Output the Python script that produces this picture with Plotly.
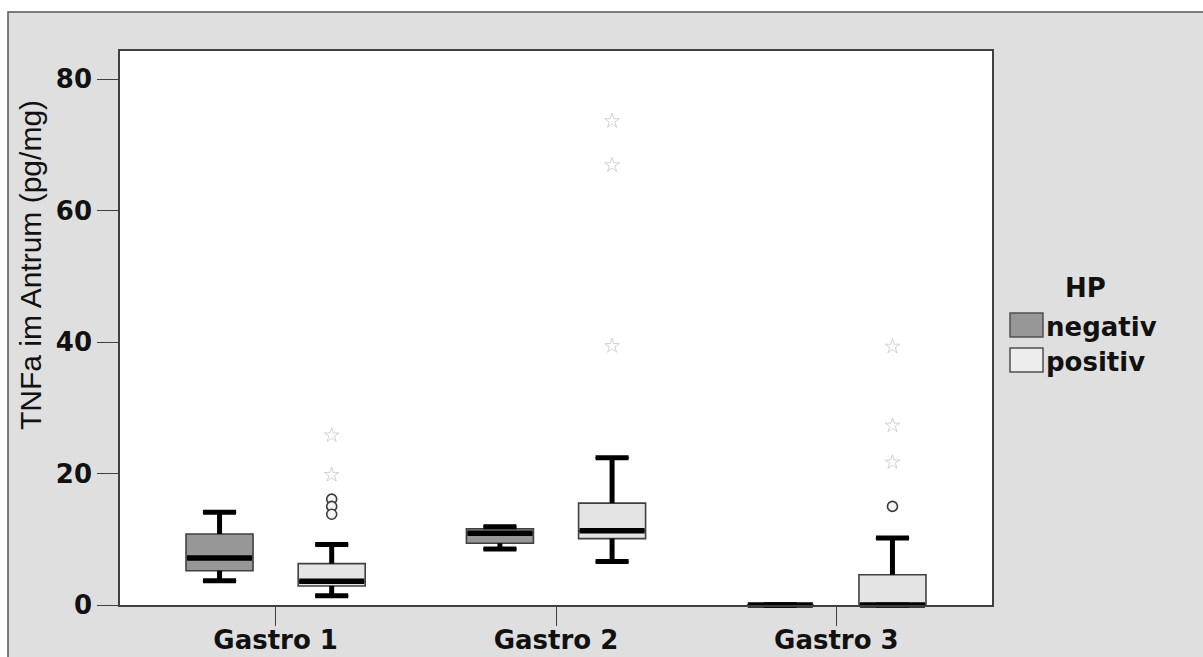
import plotly.graph_objects as go

# Box-plot summary of TNFa in the antrum, by gastroscopy and HP status
categories = ["Gastro 1", "Gastro 2", "Gastro 3"]
hp_groups = ["negativ", "positiv"]

neg_lower = [3.7, 8.5, 0.0]
neg_q1 = [5.2, 9.4, 0.0]
neg_median = [7.15, 10.9, 0.0]
neg_q3 = [10.8, 11.6, 0.0]
neg_upper = [14.1, 11.9, 0.0]

pos_lower = [1.4, 6.6, 0.0]
pos_q1 = [2.9, 10.1, 0.0]
pos_median = [3.6, 11.3, 0.0]
pos_q3 = [6.3, 15.5, 4.6]
pos_upper = [9.2, 22.4, 10.2]

# outliers (circles) and extreme values (stars), HP positiv only
pos_outliers = [[16.1, 15.0, 13.8], [], [15.0]]
pos_extremes = [[25.8, 19.8], [73.6, 66.9, 39.4], [39.3, 27.3, 21.7]]

y_ticks = [0, 20, 40, 60, 80]

# styling
FILL = {"negativ": "#979797", "positiv": "#e4e4e4"}
OFFSET = {"negativ": -0.2, "positiv": 0.2}
BOX_W = 0.239          # box width in axis units
LINE_SYM = 1.4         # plotly draws line-ew symbols 1.4x the marker size
BOX_PX = 65 / LINE_SYM
CAP_PX = 33 / LINE_SYM
FRAME_BG = "#dfdfdf"
EDGE = "#404040"
TICK_FONT = dict(family="DejaVu Sans", size=26, color="#111111")

# plot area in pixels
W, H = 1203, 657
L, R, T, B = 120, 992, 51, 605


def px_x(p):
    return (p - L) / (R - L)


def px_y(p):
    return (B - p) / (B - T)


stats = {
    "negativ": (neg_lower, neg_q1, neg_median, neg_q3, neg_upper),
    "positiv": (pos_lower, pos_q1, pos_median, pos_q3, pos_upper),
}

fig = go.Figure()

for grp in hp_groups:
    lo, q1, med, q3, up = stats[grp]
    xs = [i + OFFSET[grp] for i in range(len(categories))]
    fig.add_trace(go.Box(
        x=xs, q1=q1, median=med, q3=q3, lowerfence=lo, upperfence=up,
        width=BOX_W, fillcolor=FILL[grp],
        line=dict(color=EDGE, width=1.6), whiskerwidth=0.5,
        boxpoints=False, name=grp, showlegend=False, hoverinfo="skip",
    ))

# heavy whisker stems
for grp in hp_groups:
    lo, q1, med, q3, up = stats[grp]
    wx, wy = [], []
    for i in range(len(categories)):
        c = i + OFFSET[grp]
        wx += [c, c, None, c, c, None]
        wy += [q3[i], up[i], None, lo[i], q1[i], None]
    fig.add_trace(go.Scatter(
        x=wx, y=wy, mode="lines", line=dict(color="black", width=5),
        showlegend=False, hoverinfo="skip",
    ))

# whisker caps and median bars as horizontal line markers (not clipped at the axis)
for grp in hp_groups:
    lo, q1, med, q3, up = stats[grp]
    xs = [i + OFFSET[grp] for i in range(len(categories))]
    fig.add_trace(go.Scatter(
        x=xs + xs, y=lo + up, mode="markers", cliponaxis=False,
        marker=dict(symbol="line-ew", size=CAP_PX,
                    line=dict(color="black", width=5)),
        showlegend=False, hoverinfo="skip",
    ))
    fig.add_trace(go.Scatter(
        x=xs, y=med, mode="markers", cliponaxis=False,
        marker=dict(symbol="line-ew", size=BOX_PX,
                    line=dict(color="black", width=5.5)),
        showlegend=False, hoverinfo="skip",
    ))

ox, oy, ex, ey = [], [], [], []
for i in range(len(categories)):
    c = i + OFFSET["positiv"]
    ox += [c] * len(pos_outliers[i])
    oy += pos_outliers[i]
    ex += [c] * len(pos_extremes[i])
    ey += pos_extremes[i]

fig.add_trace(go.Scatter(
    x=ox, y=oy, mode="markers",
    marker=dict(symbol="circle", size=10, color="#f4f4f4",
                line=dict(color="#3a3a3a", width=1.6)),
    showlegend=False, hoverinfo="skip",
))
fig.add_trace(go.Scatter(
    x=ex, y=ey, mode="markers",
    marker=dict(symbol="star-open", size=11, color="#d2d2d2",
                line=dict(color="#d2d2d2", width=1)),
    showlegend=False, hoverinfo="skip",
))

shapes = [
    # grey chart frame
    dict(type="rect", xref="paper", yref="paper", layer="below",
         x0=px_x(8), x1=px_x(1300), y0=px_y(760), y1=px_y(12),
         fillcolor=FRAME_BG, line=dict(color="#555555", width=1.5)),
    # white plotting area
    dict(type="rect", xref="x domain", yref="y domain", layer="below",
         x0=0, x1=1, y0=0, y1=1, fillcolor="white", line=dict(width=0)),
]

annotations = [
    dict(text="TNFa im Antrum (pg/mg)", xref="paper", yref="paper",
         x=px_x(30), y=px_y(265), xanchor="center", yanchor="middle",
         textangle=-90, showarrow=False,
         font=dict(family="Liberation Sans", size=30, color="#111111")),
    dict(text="<b>HP</b>", xref="paper", yref="paper",
         x=px_x(1085), y=px_y(288), xanchor="center", yanchor="middle",
         showarrow=False, font=TICK_FONT),
]

# legend: colour swatches with labels
legend_rows = {"negativ": 325, "positiv": 360}
for grp in hp_groups:
    cy = legend_rows[grp]
    shapes.append(dict(
        type="rect", xref="paper", yref="paper",
        x0=px_x(1010), x1=px_x(1043), y0=px_y(cy + 12), y1=px_y(cy - 12),
        fillcolor=FILL[grp] if grp == "negativ" else "#ededed",
        line=dict(color="#505050", width=1.5)))
    annotations.append(dict(
        text=f"<b>{grp}</b>", xref="paper", yref="paper",
        x=px_x(1044), y=px_y(cy + 2), xanchor="left", yanchor="middle",
        showarrow=False, font=TICK_FONT))

fig.update_layout(
    width=W, height=H,
    margin=dict(l=L, r=W - R, t=T, b=H - B, pad=0, autoexpand=False),
    paper_bgcolor="white", plot_bgcolor="white",
    shapes=shapes, annotations=annotations,
    showlegend=False,
)

fig.update_xaxes(
    range=[-0.555, 2.555], tickvals=[0, 1, 2], ticktext=[f"<b>{c}</b>" for c in categories],
    ticks="outside", ticklen=19, tickwidth=1.3, tickcolor=EDGE,
    showline=True, linecolor=EDGE, linewidth=1.6, mirror=True, automargin=False,
    showgrid=False, zeroline=False, tickfont=TICK_FONT, ticklabelstandoff=-8,
)
fig.update_yaxes(
    range=[0, 84.26], tickvals=y_ticks, ticktext=[f"<b>{v}</b>" for v in y_ticks],
    ticks="outside", ticklen=21, tickwidth=1.3, tickcolor=EDGE,
    showline=True, linecolor=EDGE, linewidth=1.6, mirror=True, automargin=False,
    showgrid=False, zeroline=False, tickfont=TICK_FONT,
)

fig.write_html("out.html")
